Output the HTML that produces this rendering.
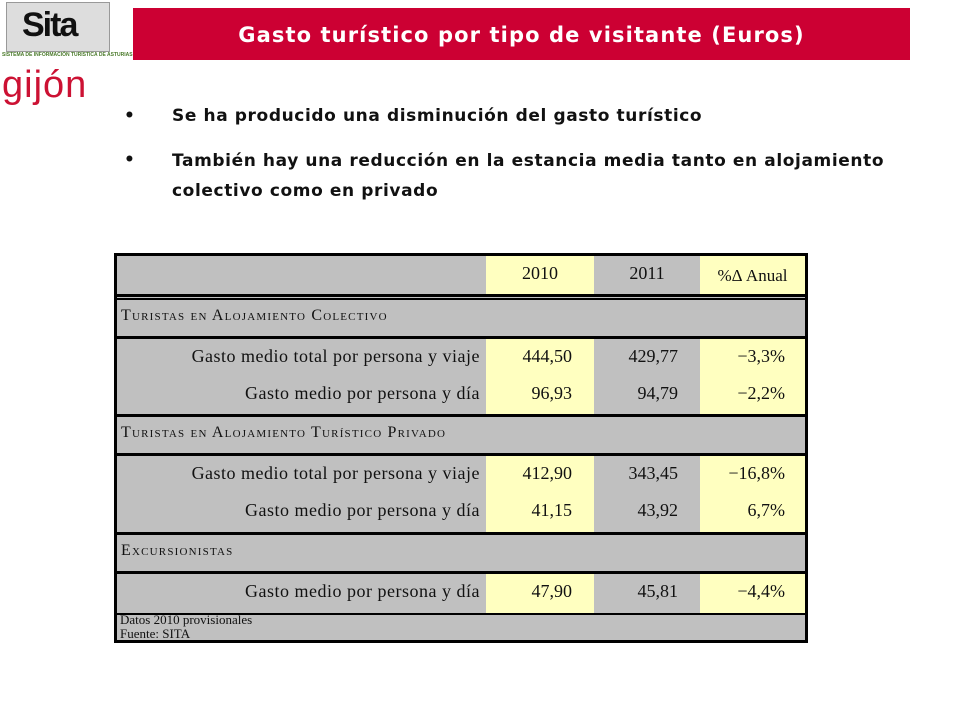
<!DOCTYPE html>
<html><head><meta charset="utf-8">
<style>
body{margin:0;width:960px;height:720px;background:#fff;position:relative;overflow:hidden;font-family:"Liberation Sans",sans-serif}
.a{position:absolute}
.t{font-family:"Liberation Serif",serif;color:#111;font-size:18px;white-space:nowrap}
.g{background:#c0c0c0}
.y{background:#ffffc0}
.ln{position:absolute;left:114px;width:694px;background:#000;height:3px}
.sc{font-variant:small-caps;font-size:16px;letter-spacing:1.2px}
.bul{font-weight:bold;font-size:17px;color:#111;font-family:"DejaVu Sans",sans-serif;letter-spacing:0.6px;white-space:nowrap}
</style></head><body>
<div class="a" style="left:2px;top:2px;width:110px;height:56px">
 <div class="a" style="left:4px;top:0;width:102px;height:48px;background:#ddd;border:1px solid #999"></div>
 <div class="a" style="left:20px;top:4px;font:bold 34px 'Liberation Sans',sans-serif;color:#111;letter-spacing:-2px">Sita</div>
 <div class="a" style="left:0;top:50px;font:bold 5px 'Liberation Sans',sans-serif;color:#4a7a2a;white-space:nowrap">SISTEMA DE INFORMACIÓN TURÍSTICA DE ASTURIAS</div>
</div>
<div class="a" style="left:2px;top:64px;font:38px 'Liberation Sans',sans-serif;color:#cc1133;letter-spacing:1px">gijón</div>
<div class="a" style="left:133px;top:8px;width:777px;height:52px;background:#cc0033;color:#fff;font-weight:bold;font-size:21px;font-family:'DejaVu Sans',sans-serif;letter-spacing:1.1px;text-align:center;line-height:54px">Gasto turístico por tipo de visitante (Euros)</div>
<div class="a bul" style="left:124px;top:106px">•</div>
<div class="a bul" style="left:172px;top:106px">Se ha producido una disminución del gasto turístico</div>
<div class="a bul" style="left:124px;top:150px">•</div>
<div class="a bul" style="left:172px;top:146px;line-height:30px">También hay una reducción en la estancia media tanto en alojamiento<br>colectivo como en privado</div>

<div class="a g" style="left:114px;top:253px;width:688px;height:384px;border:3px solid #000"></div>
<div id="tbl"></div>
<script>
const years=["2010","2011","%Δ Anual"];
const sections=["Turistas en Alojamiento Colectivo","Turistas en Alojamiento Turístico Privado","Excursionistas"];
const rowLabels=[["Gasto medio total por persona y viaje","Gasto medio por persona y día"],["Gasto medio total por persona y viaje","Gasto medio por persona y día"],["Gasto medio por persona y día"]];
const v2010=[["444,50","96,93"],["412,90","41,15"],["47,90"]];
const v2011=[["429,77","94,79"],["343,45","43,92"],["45,81"]];
const vPct=[["−3,3%","−2,2%"],["−16,8%","6,7%"],["−4,4%"]];
const T=document.getElementById('tbl');
function add(html){T.insertAdjacentHTML('beforeend',html);}
const colX=[486,594,700,805];
add(`<div class="a y" style="left:486px;top:256px;width:108px;height:38px"></div><div class="a y" style="left:700px;top:256px;width:105px;height:38px"></div>`);
years.forEach((yv,i)=>add(`<div class="a t" style="left:${colX[i]}px;top:263px;width:${colX[i+1]-colX[i]}px;text-align:center;${i==2?'top:266px;font-size:17px':''}">${yv}</div>`));
add(`<div class="ln" style="top:294px"></div><div class="ln" style="top:298px;height:2px"></div>`);
const rowH=[[37,38],[37,39],[39]];
let y=300;
sections.forEach((s,si)=>{
 add(`<div class="a t sc" style="left:121px;top:${y+7}px">${s}</div>`);
 y+=36; add(`<div class="ln" style="top:${y}px"></div>`); y+=3;
 rowLabels[si].forEach((l,ri)=>{
  const h=rowH[si][ri];
  add(`<div class="a y" style="left:486px;top:${y}px;width:108px;height:${h}px"></div><div class="a y" style="left:700px;top:${y}px;width:105px;height:${h}px"></div>`);
  add(`<div class="a t" style="left:100px;width:380px;text-align:right;top:${y+7}px;letter-spacing:0.5px">${l}</div>`);
  [v2010,v2011,vPct].forEach((arr,ci)=>add(`<div class="a t" style="left:${colX[ci]}px;width:${colX[ci+1]-colX[ci]-(ci==2?20:22)}px;text-align:right;top:${y+7}px">${arr[si][ri]}</div>`));
  y+=h;
 });
 if(si<2){add(`<div class="ln" style="top:${y}px"></div>`);y+=3;}
});
add(`<div class="ln" style="top:${y}px;height:2px"></div>`);
add(`<div class="a t" style="left:120px;top:${y}px;font-size:13px;line-height:14px">Datos 2010 provisionales<br>Fuente: SITA</div>`);
</script>
</body></html>
